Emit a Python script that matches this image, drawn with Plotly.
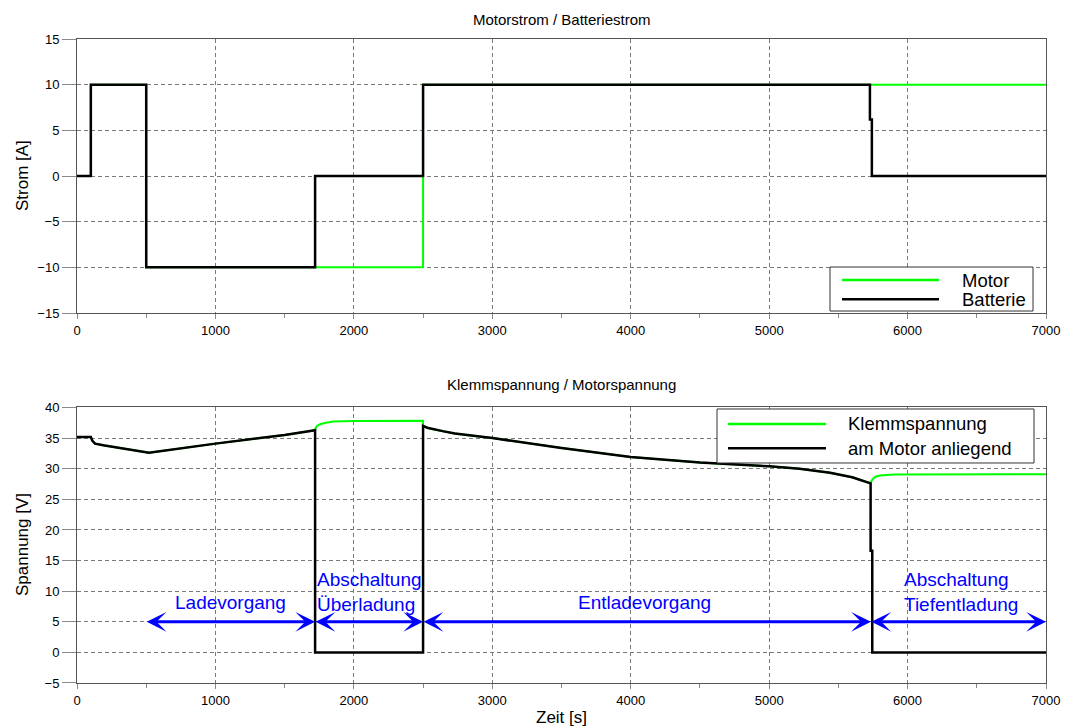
import plotly.graph_objects as go

# ---- Strom (oben) ----
motor_t = [0, 100, 100, 500, 500, 2500, 2500, 7000]
motor_i = [0, 0, 10, 10, -10, -10, 10, 10]

batt_t = [0, 100, 100, 500, 500, 1720, 1720, 2500, 2500, 5728, 5728, 5742, 5742, 7000]
batt_i = [0, 0, 10, 10, -10, -10, 0, 0, 10, 10, 6.2, 6.2, 0, 0]

# ---- Spannung (unten) ----
klemm_t = [0, 100, 110, 130, 200, 300, 400, 520, 1000, 1500, 1720,
           1722, 1735, 1760, 1800, 1850, 2000, 2500,
           2500, 2530, 2580, 2650, 2730, 2850, 3000, 3500, 4000, 4500, 5000, 5220, 5440, 5600, 5733,
           5736, 5748, 5768, 5800, 5900, 7000]
klemm_u = [35.2, 35.2, 34.6, 34.1, 33.8, 33.4, 33.0, 32.6, 34.1, 35.5, 36.3,
           36.6, 37.0, 37.3, 37.5, 37.7, 37.8, 37.85,
           37.0, 36.7, 36.4, 36.1, 35.75, 35.4, 35.0, 33.4, 31.9, 31.0, 30.4, 30.0, 29.35, 28.6, 27.6,
           27.9, 28.3, 28.7, 28.9, 29.05, 29.1]

motor_u_t = [0, 100, 110, 130, 200, 300, 400, 520, 1000, 1500, 1720, 1720, 2500,
             2500, 2530, 2580, 2650, 2730, 2850, 3000, 3500, 4000, 4500, 5000, 5220, 5440, 5600, 5733,
             5733, 5745, 5745, 7000]
motor_u = [35.2, 35.2, 34.6, 34.1, 33.8, 33.4, 33.0, 32.6, 34.1, 35.5, 36.3, 0, 0,
           37.0, 36.7, 36.4, 36.1, 35.75, 35.4, 35.0, 33.4, 31.9, 31.0, 30.4, 30.0, 29.35, 28.6, 27.6,
           16.6, 16.6, 0, 0]

# Phasen mit Pfeilen (Start, Ende, Beschriftung)
phase_start = [500, 1720, 2500, 5735]
phase_end = [1720, 2500, 5735, 7000]
phase_label = ["Ladevorgang", "Abschaltung<br>Überladung", "Entladevorgang", "Abschaltung<br>Tiefentladung"]
phase_label_x = [1110, 2111, 4100, 6386]
phase_label_y = [8.1, 9.9, 8.1, 9.9]
arrow_level = 5

GREEN = "#00ff00"
BLACK = "#000000"
BLUE = "#0000ff"
FONT = "Liberation Sans, Arial, sans-serif"
TEXT = "#000000"

fig = go.Figure()
fig.add_trace(go.Scatter(x=motor_t, y=motor_i, mode="lines", line=dict(color=GREEN, width=2),
                         xaxis="x", yaxis="y", showlegend=False))
fig.add_trace(go.Scatter(x=batt_t, y=batt_i, mode="lines", line=dict(color=BLACK, width=2.5),
                         xaxis="x", yaxis="y", showlegend=False))
fig.add_trace(go.Scatter(x=klemm_t, y=klemm_u, mode="lines", line=dict(color=GREEN, width=2),
                         xaxis="x2", yaxis="y2", showlegend=False))
fig.add_trace(go.Scatter(x=motor_u_t, y=motor_u, mode="lines", line=dict(color=BLACK, width=2.5),
                         xaxis="x2", yaxis="y2", showlegend=False))

axis_common = dict(
    showgrid=True, gridcolor="#7a7a7a", gridwidth=1, griddash="4px,3px",
    showline=True, linecolor="#555555", linewidth=1, mirror=True,
    zeroline=False, ticks="outside", tickcolor="#8a8a8a", automargin=False,
    tickfont=dict(family=FONT, size=13, color=TEXT),
)

fig.update_layout(
    width=1066, height=727,
    margin=dict(l=77, r=20, t=39, b=44, autoexpand=False),
    paper_bgcolor="white", plot_bgcolor="white",
    font=dict(family=FONT, color=TEXT),
    xaxis=dict(domain=[0, 1], range=[0, 7000], dtick=1000, tick0=0, ticklen=5,
               minor=dict(dtick=500, ticks="outside", ticklen=4, tickcolor="#8a8a8a", showgrid=False),
               anchor="y", **axis_common),
    yaxis=dict(domain=[0.5745, 1], range=[-15, 15], dtick=5, tick0=0, ticklen=14,
               anchor="x", **axis_common),
    xaxis2=dict(domain=[0, 1], range=[0, 7000], dtick=1000, tick0=0, ticklen=5,
                minor=dict(dtick=500, ticks="outside", ticklen=4, tickcolor="#8a8a8a", showgrid=False),
                anchor="y2", **axis_common),
    yaxis2=dict(domain=[0, 0.4278], range=[-5, 40], dtick=5, tick0=0, ticklen=14,
                anchor="x2", **axis_common),
)

annotations = []
# Titel
annotations.append(dict(text="Motorstrom / Batteriestrom", xref="paper", yref="paper",
                        x=0.5, y=1 + 20 / 644, xanchor="center", yanchor="middle",
                        showarrow=False, font=dict(size=15, family=FONT, color=TEXT)))
annotations.append(dict(text="Klemmspannung / Motorspannung", xref="paper", yref="paper",
                        x=0.5, y=(683 - 384) / 644, xanchor="center", yanchor="middle",
                        showarrow=False, font=dict(size=15, family=FONT, color=TEXT)))
# Achsentitel
annotations.append(dict(text="Strom [A]", xref="paper", yref="paper", x=-55 / 969,
                        y=(683 - 176) / 644, textangle=-90, xanchor="center", yanchor="middle",
                        showarrow=False, font=dict(size=17, family=FONT, color=TEXT)))
annotations.append(dict(text="Spannung [V]", xref="paper", yref="paper", x=-55 / 969,
                        y=(683 - 545) / 644, textangle=-90, xanchor="center", yanchor="middle",
                        showarrow=False, font=dict(size=17, family=FONT, color=TEXT)))
annotations.append(dict(text="Zeit [s]", xref="paper", yref="paper", x=0.5,
                        y=-34 / 644, xanchor="center", yanchor="middle",
                        showarrow=False, font=dict(size=17, family=FONT, color=TEXT)))

# Doppelpfeile und Phasenbeschriftungen
for xs, xe, lab, lx, ly in zip(phase_start, phase_end, phase_label, phase_label_x, phase_label_y):
    annotations.append(dict(x=xe, y=arrow_level, ax=xs, ay=arrow_level,
                            xref="x2", yref="y2", axref="x2", ayref="y2",
                            text="", showarrow=True, arrowhead=3, startarrowhead=3,
                            arrowside="end+start", arrowsize=1.1, startarrowsize=1.1,
                            arrowwidth=3, arrowcolor=BLUE, standoff=0, startstandoff=0,
                            borderpad=0))
    annotations.append(dict(x=lx, y=ly, xref="x2", yref="y2", text=lab, showarrow=False,
                            align="left", xanchor="center", yanchor="middle",
                            font=dict(size=19, family=FONT, color=BLUE)))

shapes = []


def legend_box(xr, yr, box, entries, text_x):
    shapes.append(dict(type="rect", xref=xr, yref=yr, x0=box[0], x1=box[1], y0=box[2], y1=box[3],
                       line=dict(color="#333333", width=1), fillcolor="white", layer="above"))
    for (lbl, col, lx0, lx1, ly) in entries:
        shapes.append(dict(type="line", xref=xr, yref=yr, x0=lx0, x1=lx1, y0=ly, y1=ly,
                           line=dict(color=col, width=2.5), layer="above"))
        annotations.append(dict(text=lbl, xref=xr, yref=yr, x=text_x, y=ly, xanchor="left",
                                yanchor="middle", showarrow=False,
                                font=dict(size=18.5, family=FONT, color=TEXT)))


legend_box("x domain", "y domain",
           [(830 - 77) / 969, (1033 - 77) / 969, (313 - 311) / 274, (313 - 267) / 274],
           [("Motor", GREEN, (842 - 77) / 969, (939 - 77) / 969, (313 - 280) / 274),
            ("Batterie", BLACK, (842 - 77) / 969, (939 - 77) / 969, (313 - 299.3) / 274)],
           (960 - 77) / 969)
legend_box("x2 domain", "y2 domain",
           [(717 - 77) / 969, (1034 - 77) / 969, (683 - 463) / 275.5, (683 - 409) / 275.5],
           [("Klemmspannung", GREEN, (728 - 77) / 969, (826 - 77) / 969, (683 - 424) / 275.5),
            ("am Motor anliegend", BLACK, (728 - 77) / 969, (826 - 77) / 969, (683 - 448.3) / 275.5)],
           (846 - 77) / 969)

fig.update_layout(annotations=annotations, shapes=shapes)
fig.write_html("out.html")
